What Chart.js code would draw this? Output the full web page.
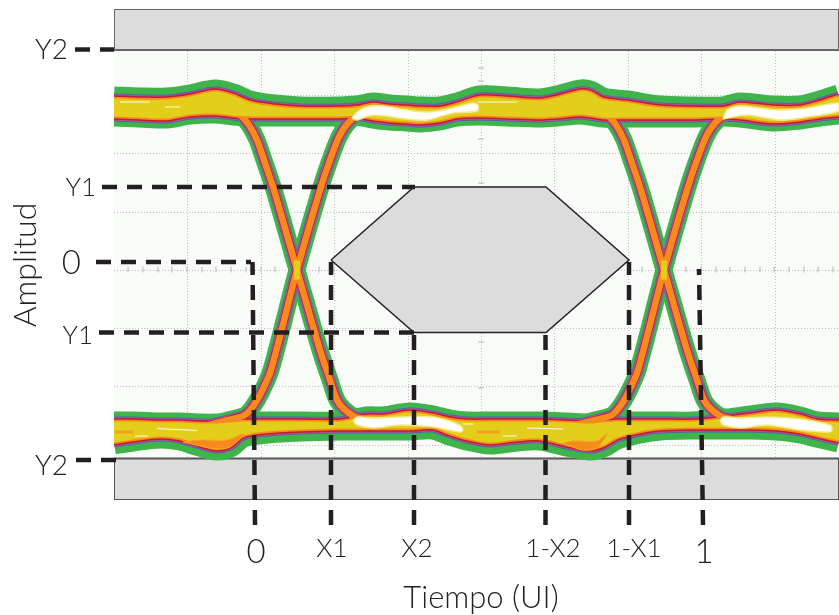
<!DOCTYPE html>
<html lang="es">

<head>
	<meta charset="UTF-8">
	<title>Diagrama de ojo</title>
	<script src="https://cdn.jsdelivr.net/npm/chart.js@4"></script>
	<style>
		html, body { margin: 0; padding: 0; background: #fff; }
		canvas { display: block; }
	</style>
</head>

<body>
	<canvas id="eye" width="839" height="615"></canvas>
	<script>
// time in ps (1 UI = 449 ps), amplitude in mV
const timeMin = -140, timeMax = 585, ampMin = -245.5, ampMax = 245.5;
const gridTimes = [-67, 7, 80, 154, 227, 300, 374, 447, 521];
const gridAmps = [159.5, 101.5, 42.5, -15.5, -73.5, -131.5, -190.5];
const tickTimes = [2, 78, 163, 299, 380, 450];
const tickLabels = ['0', 'X1', 'X2', '1-X2', '1-X1', '1'];

// rails: edges of the yellow core
const upperRailTime = [-140, -114, -87, -64, -39, -21, -4, 21, 46, 86, 103, 119, 136, 153, 166, 186, 203, 226, 253, 286, 303, 326, 336, 349, 373, 406, 439, 469, 486, 519, 546, 566, 585];
const upperRailTop = [156, 155, 155, 158, 163, 159, 152, 148, 146, 146, 147, 150, 148, 147, 146, 146, 150, 157, 156, 154, 157, 163, 162, 155, 152, 147, 146, 146, 150, 147, 147, 152, 158];
const upperRailBottom = [138, 137, 136, 140, 141, 139, 138, 138, 138, 138, 139, 136, 134, 133, 132, 134, 138, 139, 138, 137, 138, 140, 139, 137, 137, 137, 137, 138, 137, 133, 135, 138, 140];
const lowerRailTime = [-140, -121, -94, -74, -54, -37, -24, -11, 13, 46, 86, 113, 129, 156, 179, 196, 213, 236, 263, 286, 313, 336, 349, 363, 386, 406, 439, 473, 496, 523, 546, 563, 585];
const lowerRailTop = [-167, -167, -168, -168, -169, -169, -168, -167, -167, -167, -167, -162, -162, -158, -161, -165, -167, -167, -167, -167, -168, -169, -168, -167, -167, -167, -167, -164, -161, -158, -162, -167, -168];
const lowerRailBottom = [-188, -185, -182, -184, -190, -194, -191, -181, -177, -175, -174, -174, -174, -174, -173, -179, -184, -188, -185, -184, -190, -194, -191, -183, -177, -174, -173, -173, -173, -174, -177, -181, -186];

// transitions
const fallAmp = [146.5, 144.5, 139.5, 129.5, 114.5, 94.5, 64.5, -15.5, -95.5, -125.5, -145.5, -154.5, -162.5, -167.5];
const riseAmp = [-171.5, -165.5, -160.5, -150.5, -136.5, -115.5, -15.5, 64.5, 94.5, 119.5, 134.5, 142.5, 146.5];
const fallTime1 = [-44, -26, -14, -5, 3, 10, 20, 43, 66, 76, 83, 90, 102, 131];
const riseTime1 = [-49, -26, -9, 0, 8, 17, 43, 66, 76, 86, 97, 111, 131];
const fallTime2 = [323, 341, 353, 362, 370, 377, 387, 410, 433, 443, 450, 457, 469, 498];
const riseTime2 = [318, 341, 358, 367, 375, 384, 410, 433, 443, 453, 464, 478, 498];
const crossTime1 = [43, 43], crossTime2 = [410, 410], crossAmp = [-6, -25];

// hot spots inside the rails
const hotATime = [98, 103, 113, 129, 153, 176, 199, 219, 224, 223, 199, 173, 153, 119, 103, 98];
const hotAAmp = [136.5, 142.5, 147.5, 148.5, 144.5, 142.5, 146.5, 151.5, 149.5, 143.5, 141.5, 134.5, 135.5, 139.5, 134.5, 136.5];
const hotBTime = [469, 473, 486, 523, 553, 585, 585, 553, 526, 493, 469];
const hotBAmp = [135.5, 144.5, 148.5, 144.5, 146.5, 151.5, 143.5, 137.5, 134.5, 139.5, 135.5];
const hotCTime = [99, 103, 119, 146, 179, 206, 209, 206, 179, 146, 119, 103, 99];
const hotCAmp = [-166.5, -162.5, -163.5, -162.5, -162.5, -170.5, -175.5, -177.5, -172.5, -170.5, -173.5, -170.5, -166.5];
const hotDTime = [466, 469, 486, 513, 546, 576, 578, 576, 546, 513, 486, 469, 466];
const hotDAmp = [-166.5, -162.5, -163.5, -162.5, -164.5, -170.5, -175.5, -177.5, -175.5, -170.5, -173.5, -170.5, -166.5];
const warmATime = [-71, -54, -27, -10, -24, -37, -54, -71];
const warmAAmp = [-187.5, -185.5, -185.5, -179, -192.5, -194.5, -191.5, -187.5];
const warmBTime = [309, 319, 343, 353, 343, 328, 309];
const warmBAmp = [-188.5, -186.5, -186.5, -179, -193.5, -195.5, -188.5];
const streakTime = [-134, -104, null, -89, -74, null, 224, 263, null, -97, -57, null, -119, -106, null, 209, 219, null, 273, 309, null, 249, 263];
const streakAmp = [152.5, 152.5, null, 147.5, 147.5, null, 152.5, 152.5, null, -174, -176, null, -181.5, -181.5, null, -169.5, -169.5, null, -173.5, -174.5, null, -181.5, -181.5];
const warmStreakTime = [-139, -121, null, 223, 246];
const warmStreakAmp = [-177.5, -177.5, null, -177.5, -177.5];

// mask
const maskTime = [77, 160, 292, 375, 292, 160, 77];
const maskAmp = [-5.5, 67.5, 67.5, -5.5, -78, -78, -5.5];
const limitTopTime = [-140, 585, 585, -140, -140];
const limitTopAmp = [245.5, 245.5, 204.5, 204.5, 245.5];
const limitBottomTime = [-140, 585, 585, -140, -140];
const limitBottomAmp = [-204, -204, -245.5, -245.5, -204];

// scope graticule marks
const markTimes = [-126, -111, -96, -82, -67, -52, -38, -23, -8, 7, 21, 36, 51, 65, 80, 95, 109, 124, 139, 154, 168, 183, 198, 212, 227, 242, 256, 271, 286, 300, 315, 330, 344, 359, 374, 388, 403, 418, 432, 447, 462, 476, 491, 506, 520, 535, 550, 564, 579];
const markAmps = [186.5, 173.5, 115.5, 71.5, -87.5, -133.5];

// guide lines [time, amp] end points
const guideLines = [
	[[-179, -140], [205, 205]],
	[[-178, -138], [-205.5, -205.5]],
	[[-152, 161], [67.5, 67.5]],
	[[-158, -3], [-7.5, -7.5]],
	[[-155, 161], [-78, -78]],
	[[1, -1.5], [-270.5, -7.5]],
	[[77, 77], [-270.5, -7.5]],
	[[160, 160], [-270.5, -78]],
	[[291.5, 291.5], [-270.5, -78]],
	[[375, 375], [-270.5, -7.5]],
	[[449, 445], [-270.5, -14.5]]
];

const datasets = [];

function points(xs, ys) {
	return xs.map((x, i) => ({ x: x, y: ys[i] }));
}

function addLine(xs, ys, color, width, extra) {
	datasets.push(Object.assign({
		data: points(xs, ys),
		borderColor: color,
		borderWidth: width,
		backgroundColor: 'transparent',
		pointRadius: 0,
		tension: 0.3,
		fill: false,
		order: -datasets.length
	}, extra));
}

function addShape(xs, ys, color, edge, width, extra) {
	addLine(xs, ys, edge, width, Object.assign({ backgroundColor: color, fill: 'shape' }, extra));
}

addShape(limitTopTime, limitTopAmp, '#dcdcdc', '#666666', 2, { tension: 0 });
addShape(limitBottomTime, limitBottomAmp, '#dcdcdc', '#555555', 2, { tension: 0 });

addLine(markTimes, markTimes.map(() => -15), '#bbbbbb', 1, {
	showLine: false, pointStyle: 'line', pointRadius: 3, pointRotation: 90, pointBorderColor: '#b5b5b5', pointBorderWidth: 1
});
addLine(markAmps.map(() => 227), markAmps, '#bbbbbb', 1, {
	showLine: false, pointStyle: 'line', pointRadius: 3, pointBorderColor: '#b5b5b5', pointBorderWidth: 1
});

// colour layers, widest first, rail edges first then the four transitions
const bandLayers = [
	{ color: '#3fb44a', outer: 24, inner: 20, trace: 17 },
	{ color: '#4a62ae', outer: 10, inner: 10, trace: 11 },
	{ color: '#a8559f', outer: 8.5, inner: 8.5, trace: 10 },
	{ color: '#c41a30', outer: 6.5, inner: 6.5, trace: 8 },
	{ color: '#f58b1e', outer: 3.5, inner: 3.5, trace: 6.5 }
];
bandLayers.forEach(layer => {
	addLine(upperRailTime, upperRailTop, layer.color, layer.outer);
	addLine(upperRailTime, upperRailBottom, layer.color, layer.inner);
	addLine(lowerRailTime, lowerRailTop, layer.color, layer.inner);
	addLine(lowerRailTime, lowerRailBottom, layer.color, layer.outer);
	addLine(fallTime1, fallAmp, layer.color, layer.trace);
	addLine(riseTime1, riseAmp, layer.color, layer.trace);
	addLine(fallTime2, fallAmp, layer.color, layer.trace);
	addLine(riseTime2, riseAmp, layer.color, layer.trace);
});

// yellow core between the rail edges
const yellow = '#e3cf1b';
addLine(upperRailTime, upperRailTop, yellow, 0, { backgroundColor: yellow, fill: '+1' });
addLine(upperRailTime, upperRailBottom, yellow, 0);
addLine(lowerRailTime, lowerRailTop, yellow, 0, { backgroundColor: yellow, fill: '+1' });
addLine(lowerRailTime, lowerRailBottom, yellow, 0);
addLine(crossTime1, crossAmp, yellow, 6, { tension: 0 });
addLine(crossTime2, crossAmp, yellow, 6, { tension: 0 });

addShape(warmATime, warmAAmp, '#f58b1e', '#f5a81e', 1);
addShape(warmBTime, warmBAmp, '#f58b1e', '#f5a81e', 1);
addLine(warmStreakTime, warmStreakAmp, '#f5a020', 3, { tension: 0 });
addShape(hotATime, hotAAmp, '#ffffff', '#f3ea90', 1.5);
addShape(hotBTime, hotBAmp, '#ffffff', '#f3ea90', 1.5);
addShape(hotCTime, hotCAmp, '#ffffff', '#f3ea90', 1.5);
addShape(hotDTime, hotDAmp, '#ffffff', '#f3ea90', 1.5);
addLine(streakTime, streakAmp, '#fffbe0', 1, { tension: 0 });

addShape(maskTime, maskAmp, '#dcdcdc', '#222222', 1.5, { tension: 0 });

guideLines.forEach(g => {
	addLine(g[0], g[1], '#231f20', 4.5, { tension: 0, borderDash: [15, 10], borderCapStyle: 'butt', clip: false });
});

const textFont = '300 {size}px Lato, "Open Sans", sans-serif';
const textColor = '#222222';
// y axis captions sit at different distances from the plot in the original
const sideLabels = [
	{ text: 'Y2', right: 68, amp: 204.5, size: 28 },
	{ text: 'Y1', right: 96, amp: 66.5, size: 26 },
	{ text: '0', right: 81, amp: -9, size: 33 },
	{ text: 'Y1', right: 93, amp: -81.5, size: 26 },
	{ text: 'Y2', right: 68, amp: -211, size: 28 }
];

const eyeText = {
	id: 'eyeText',
	beforeDraw(chart) {
		const a = chart.chartArea, c = chart.ctx;
		c.save();
		c.fillStyle = '#f8fbf8';
		c.fillRect(a.left, a.top, a.right - a.left, a.bottom - a.top);
		c.restore();
	},
	afterDraw(chart) {
		const c = chart.ctx, yScale = chart.scales.y;
		c.save();
		c.fillStyle = textColor;
		c.textBaseline = 'middle';
		c.textAlign = 'right';
		sideLabels.forEach(l => {
			c.font = textFont.replace('{size}', l.size);
			c.fillText(l.text, l.right, yScale.getPixelForValue(l.amp));
		});
		c.textAlign = 'center';
		c.font = textFont.replace('{size}', 31);
		c.fillText('Tiempo (UI)', 481, 598);
		c.font = textFont.replace('{size}', 32);
		c.translate(26, 265);
		c.rotate(-Math.PI / 2);
		c.fillText('Amplitud', 0, 0);
		c.restore();
	}
};

new Chart(document.getElementById('eye'), {
	type: 'line',
	data: { datasets: datasets },
	plugins: [eyeText],
	options: {
		responsive: false,
		animation: false,
		events: [],
		layout: { autoPadding: false, padding: { top: 9 } },
		plugins: { legend: { display: false }, tooltip: { enabled: false } },
		scales: {
			x: {
				type: 'linear',
				min: timeMin,
				max: timeMax,
				afterBuildTicks: s => { s.ticks = tickTimes.map(v => ({ value: v })); },
				afterFit: s => { s.height = 115; s.paddingLeft = 0; s.paddingRight = 0; },
				border: { display: false },
				grid: { display: false },
				ticks: {
					autoSkip: false,
					maxRotation: 0,
					padding: 25,
					color: textColor,
					font: ctx => ({
						family: 'Lato, "Open Sans", sans-serif',
						weight: '300',
						size: (ctx.index === 0 || ctx.index === 5) ? 33 : 26
					}),
					callback: (v, i) => tickLabels[i]
				}
			},
			xGrid: {
				type: 'linear',
				axis: 'x',
				position: 'bottom',
				min: timeMin,
				max: timeMax,
				afterBuildTicks: s => { s.ticks = gridTimes.map(v => ({ value: v })); },
				afterFit: s => { s.height = 0; s.paddingLeft = 0; s.paddingRight = 0; },
				border: { display: false, dash: [1, 2] },
				grid: { color: '#bdbdbd', drawTicks: false },
				ticks: { display: false }
			},
			y: {
				type: 'linear',
				min: ampMin,
				max: ampMax,
				afterBuildTicks: s => { s.ticks = gridAmps.map(v => ({ value: v })); },
				afterFit: s => { s.width = 114; s.paddingTop = 0; s.paddingBottom = 0; },
				border: { display: false, dash: [1, 2] },
				grid: { color: '#bdbdbd', drawTicks: false },
				ticks: { display: false }
			}
		}
	}
});
	</script>
</body>

</html>
